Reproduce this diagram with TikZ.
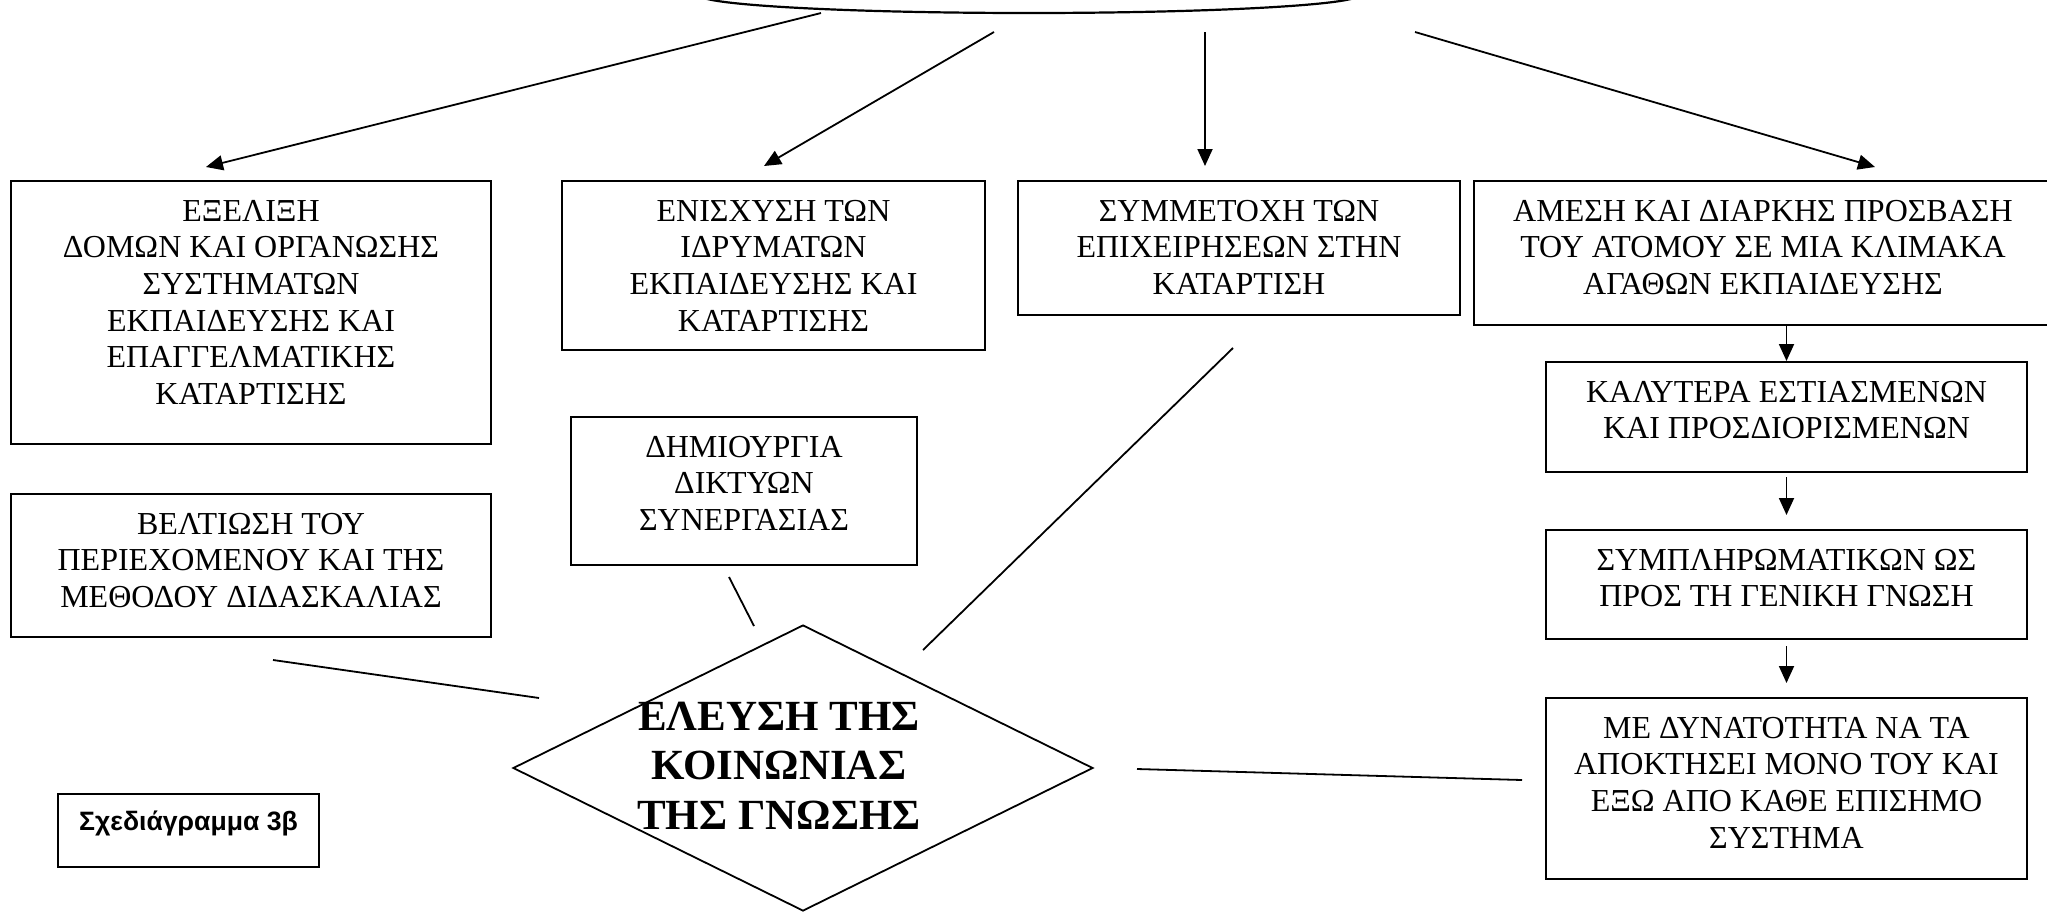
\documentclass[tikz,border=0pt]{standalone}
\usepackage{fontspec}
\setmainfont{Liberation Serif}
\setsansfont{Liberation Sans}
\usetikzlibrary{shapes.geometric,arrows.meta}
\newcommand{\gbox}[4]{\parbox[t][#2][t]{#1}{\centering\rule{0pt}{#3}#4\par}}
\begin{document}
\begin{tikzpicture}[x=0.5pt,y=-0.5pt,
  box/.style={draw,line width=1pt,inner sep=0pt,anchor=north west,font=\fontsize{16}{18.35}\selectfont},
  conn/.style={line width=0.9pt},
  arr/.style={line width=0.9pt,-{Triangle[length=8.5pt,width=7.5pt]}}]
\useasboundingbox (0,0) rectangle (2047,912);
\clip (0,0) rectangle (2047,912);

% top ellipse (cut off)
\node[ellipse,draw,line width=1.1pt,inner sep=0pt,minimum width=330pt,minimum height=18pt] (top) at (1029,-5) {};

% boxes
\node[box] (A) at (10,180) {\gbox{240pt}{131.5pt}{20pt}{ΕΞΕΛΙΞΗ\\ΔΟΜΩΝ ΚΑΙ ΟΡΓΑΝΩΣΗΣ\\ΣΥΣΤΗΜΑΤΩΝ\\ΕΚΠΑΙΔΕΥΣΗΣ ΚΑΙ\\ΕΠΑΓΓΕΛΜΑΤΙΚΗΣ\\ΚΑΤΑΡΤΙΣΗΣ}};
\node[box] (B) at (561,180) {\gbox{211.5pt}{84.5pt}{20pt}{ΕΝΙΣΧΥΣΗ ΤΩΝ\\ΙΔΡΥΜΑΤΩΝ\\ΕΚΠΑΙΔΕΥΣΗΣ ΚΑΙ\\ΚΑΤΑΡΤΙΣΗΣ}};
\node[box] (C) at (1017,180) {\gbox{221pt}{67pt}{20pt}{ΣΥΜΜΕΤΟΧΗ ΤΩΝ\\ΕΠΙΧΕΙΡΗΣΕΩΝ ΣΤΗΝ\\ΚΑΤΑΡΤΙΣΗ}};
\node[box] (D) at (1473,180) {\gbox{289pt}{72pt}{20pt}{ΑΜΕΣΗ ΚΑΙ ΔΙΑΡΚΗΣ ΠΡΟΣΒΑΣΗ\\ΤΟΥ ΑΤΟΜΟΥ ΣΕ ΜΙΑ ΚΛΙΜΑΚΑ\\ΑΓΑΘΩΝ ΕΚΠΑΙΔΕΥΣΗΣ}};
\node[box] (E) at (1545,361) {\gbox{240.5pt}{55pt}{20pt}{ΚΑΛΥΤΕΡΑ ΕΣΤΙΑΣΜΕΝΩΝ\\ΚΑΙ ΠΡΟΣΔΙΟΡΙΣΜΕΝΩΝ}};
\node[box] (F) at (1545,529) {\gbox{240.5pt}{54.5pt}{20pt}{ΣΥΜΠΛΗΡΩΜΑΤΙΚΩΝ ΩΣ\\ΠΡΟΣ ΤΗ ΓΕΝΙΚΗ ΓΝΩΣΗ}};
\node[box] (G) at (1545,697) {\gbox{240.5pt}{90.5pt}{20pt}{ΜΕ ΔΥΝΑΤΟΤΗΤΑ ΝΑ ΤΑ\\ΑΠΟΚΤΗΣΕΙ ΜΟΝΟ ΤΟΥ ΚΑΙ\\ΕΞΩ ΑΠΟ ΚΑΘΕ ΕΠΙΣΗΜΟ\\ΣΥΣΤΗΜΑ}};
\node[box] (H) at (570,416) {\gbox{173pt}{74pt}{20pt}{ΔΗΜΙΟΥΡΓΙΑ\\ΔΙΚΤΥΩΝ\\ΣΥΝΕΡΓΑΣΙΑΣ}};
\node[box] (I) at (10,493) {\gbox{240pt}{71.5pt}{20pt}{ΒΕΛΤΙΩΣΗ ΤΟΥ\\ΠΕΡΙΕΧΟΜΕΝΟΥ ΚΑΙ ΤΗΣ\\ΜΕΘΟΔΟΥ ΔΙΔΑΣΚΑΛΙΑΣ}};
\node[box,font=\sffamily\bfseries\fontsize{13.3}{15}\selectfont] (J) at (57,793) {\gbox{130.5pt}{36.5pt}{18pt}{Σχεδιάγραμμα 3β}};

% diamond
\node[diamond,draw,line width=0.9pt,inner sep=0pt,minimum width=290pt,minimum height=143pt] (K) at (803,768) {};
\node[inner sep=0pt,anchor=north,font=\bfseries\fontsize{21.5}{24.7}\selectfont] (Ktext) at (779,690)
  {\parbox[t]{180pt}{\centering\rule{0pt}{20pt}ΕΛΕΥΣΗ ΤΗΣ\\ΚΟΙΝΩΝΙΑΣ\\ΤΗΣ ΓΝΩΣΗΣ\par}};

% free ends of the connectors
\coordinate (s1) at (821,13);   \coordinate (t1) at (206,167);
\coordinate (s2) at (994,32);   \coordinate (t2) at (764,166);
\coordinate (s3) at (1205,32);  \coordinate (t3) at (1205,166);
\coordinate (s4) at (1415,32);  \coordinate (t4) at (1875,167);
\coordinate (l1a) at (273,660); \coordinate (l1b) at (539,698);
\coordinate (l2a) at (729,577); \coordinate (l2b) at (754,626);
\coordinate (l3a) at (1233,348);\coordinate (l3b) at (923,650);
\coordinate (l4a) at (1137,769);\coordinate (l4b) at (1522,780);

% arrows from the top ellipse
\draw[arr] (s1) -- (t1);
\draw[arr] (s2) -- (t2);
\draw[arr] (s3) -- (t3);
\draw[arr] (s4) -- (t4);

% chain on the right
\draw[arr] (E.north |- D.south) -- (E.north);
\draw[arr,shorten <=2pt,shorten >=7pt] (E.south) -- (F.north);
\draw[arr,shorten <=3pt,shorten >=7pt] (F.south) -- (G.north);

% lines towards the diamond
\draw[conn] (l1a) -- (l1b);
\draw[conn] (l2a) -- (l2b);
\draw[conn] (l3a) -- (l3b);
\draw[conn] (l4a) -- (l4b);
\end{tikzpicture}
\end{document}
